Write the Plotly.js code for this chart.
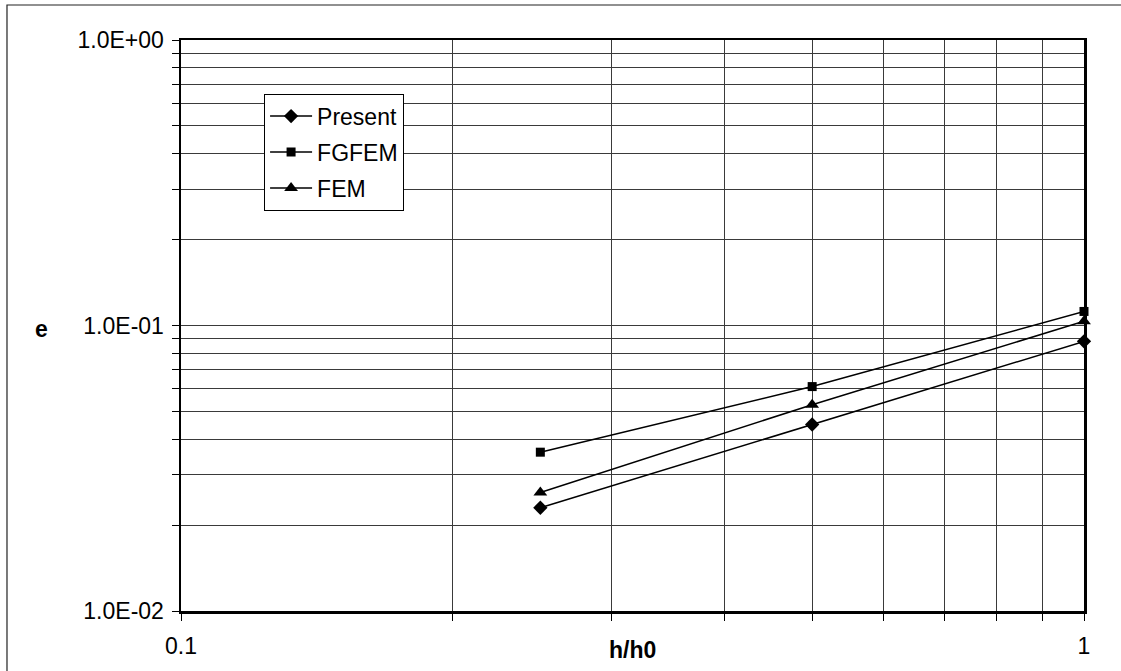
<!DOCTYPE html>
<html>
<head>
<meta charset="utf-8">
<script src="https://cdn.plot.ly/plotly-3.0.1.min.js"></script>
<style>html,body{margin:0;padding:0;background:#fff;}#chart{width:1121px;height:671px;}</style>
</head>
<body>
<div id="chart"></div>
<script>
// Data
const hRatio = [0.25, 0.5, 1];
const present = [0.0230, 0.0450, 0.0880];
const fgfem = [0.0360, 0.0611, 0.1120];
const fem = [0.0260, 0.0528, 0.1035];
const seriesNames = ["Present", "FGFEM", "FEM"];

// Tick values / labels
const xTickVals = [0.1, 0.2, 0.3, 0.4, 0.5, 0.6, 0.7, 0.8, 0.9, 1];
const xTickText = ["0.1", "", "", "", "", "", "", "", "", "1"];
const yTickVals = [0.01, 0.02, 0.03, 0.04, 0.05, 0.06, 0.07, 0.08, 0.09,
                   0.1, 0.2, 0.3, 0.4, 0.5, 0.6, 0.7, 0.8, 0.9, 1];
const yTickText = ["1.0E-02", "", "", "", "", "", "", "", "",
                   "1.0E-01", "", "", "", "", "", "", "", "", "1.0E+00"];
const xTitle = "h/h0";
const yTitle = "e";

const FONT = "Liberation Sans, Arial, sans-serif";
const symbols = ["diamond", "square", "triangle-up"];
const sizes = [11, 9, 12];
const ys = [present, fgfem, fem];

const traces = ys.map((y, i) => ({
  x: hRatio, y: y, name: seriesNames[i], type: "scatter", mode: "lines+markers",
  legendgroup: "g" + i,
  line: {color: "#000", width: 1.5},
  marker: {symbol: symbols[i], size: sizes[i], color: "#000"},
  cliponaxis: false
}));

const axisCommon = {
  type: "log", showline: true, linecolor: "#000", linewidth: 2.5, mirror: true,
  ticks: "outside", ticklen: 7, tickcolor: "#000", tickwidth: 1,
  showgrid: true, gridcolor: "#3a3a3a", gridwidth: 1, zeroline: false,
  tickmode: "array", tickfont: {family: FONT, size: 23, color: "#000"}
};

const layout = {
  width: 1121, height: 671,
  paper_bgcolor: "#fff", plot_bgcolor: "#fff",
  margin: {l: 181, r: 37, t: 40, b: 60, pad: 0},
  showlegend: true,
  xaxis: Object.assign({}, axisCommon, {
    range: [-1, 0], tickvals: xTickVals, ticktext: xTickText,
    ticklabelstandoff: 6
  }),
  yaxis: Object.assign({}, axisCommon, {
    range: [-2, 0], tickvals: yTickVals, ticktext: yTickText,
    ticklabelstandoff: 3
  }),
  legend: {
    x: 0.092, y: 0.906, xanchor: "left", yanchor: "top",
    bgcolor: "#fff", bordercolor: "#000", borderwidth: 1,
    font: {family: FONT, size: 23, color: "#000"},
    traceorder: "grouped", tracegroupgap: 3, itemwidth: 42
  },
  annotations: [{
    text: "<b>" + yTitle + "</b>", xref: "paper", yref: "paper",
    x: -0.155, y: 0.494, xanchor: "center", yanchor: "middle", showarrow: false,
    font: {family: FONT, size: 23, color: "#000"}
  }, {
    text: "<b>" + xTitle + "</b>", xref: "paper", yref: "paper",
    x: 0.5, y: -0.068, xanchor: "center", yanchor: "middle", showarrow: false,
    font: {family: FONT, size: 23, color: "#000"}
  }],
  shapes: [{
    type: "rect", xref: "paper", yref: "paper",
    x0: -0.1927, x1: 1.2, y0: -0.3, y1: 1.0613,
    line: {color: "#222", width: 1.2}, fillcolor: "rgba(0,0,0,0)", layer: "below"
  }]
};

Plotly.newPlot("chart", traces, layout, {displayModeBar: false, staticPlot: true});
</script>
</body>
</html>
